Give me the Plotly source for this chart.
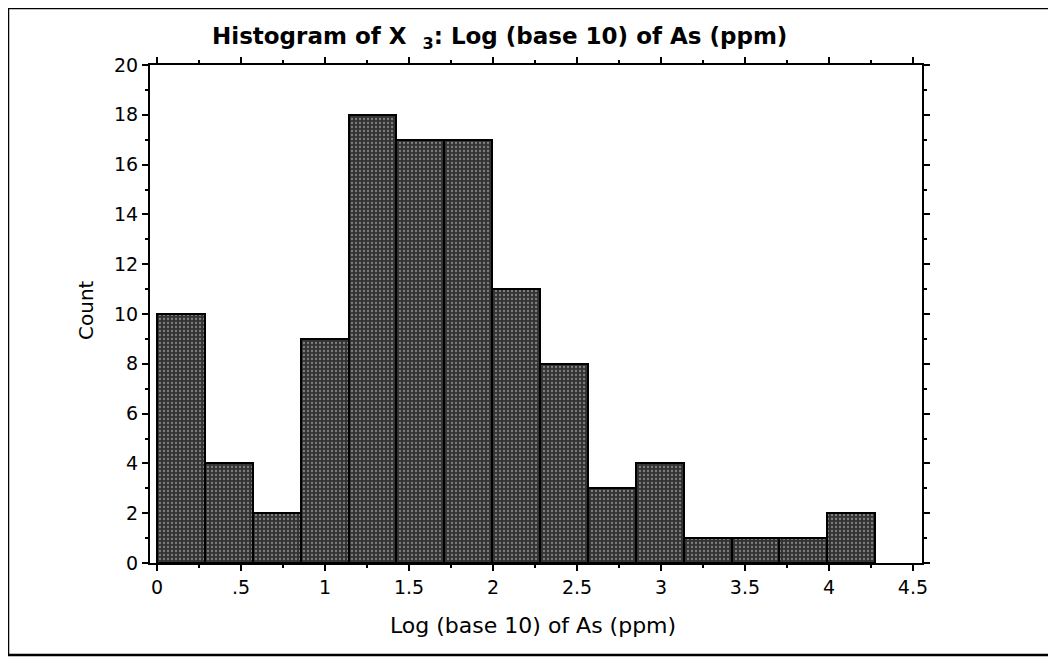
import plotly.graph_objects as go

# Histogram bins (log10 As ppm) and counts
bin_edges = [0.0, 0.285, 0.57, 0.855, 1.14, 1.425, 1.71, 1.995, 2.28,
             2.565, 2.85, 3.135, 3.42, 3.705, 3.99, 4.275]
counts = [10, 4, 2, 9, 18, 17, 17, 11, 8, 3, 4, 1, 1, 1, 2]

x_tickvals = [0, 0.5, 1, 1.5, 2, 2.5, 3, 3.5, 4, 4.5]
x_ticktext = ["0", ".5", "1", "1.5", "2", "2.5", "3", "3.5", "4", "4.5"]
y_tickvals = [0, 2, 4, 6, 8, 10, 12, 14, 16, 18, 20]

centers = [(a + b) / 2 for a, b in zip(bin_edges[:-1], bin_edges[1:])]
widths = [b - a for a, b in zip(bin_edges[:-1], bin_edges[1:])]

FONT = "DejaVu Sans"

fig = go.Figure()

fig.add_trace(go.Bar(
    x=centers,
    y=counts,
    width=widths,
    marker=dict(
        color="#333333",
        line=dict(color="black", width=2),
        pattern=dict(shape=".", fgcolor="#d0d0d0", bgcolor="#333333",
                     size=4, solidity=0.25),
    ),
    hoverinfo="x+y",
    showlegend=False,
))

# page body has an 8px margin, so the figure starts at (8, 8)
OFF = 8
W, H = 1056 - OFF, 658 - OFF
L, R, T, B = 150 - OFF, 134, 65 - OFF, 95
pw, ph = W - L - R, H - T - B


def px(x):
    return (x - OFF - L) / pw


def py(y):
    return (H - B - (y - OFF)) / ph


fig.update_layout(
    width=W,
    height=H,
    margin=dict(l=L, r=R, t=T, b=B),
    plot_bgcolor="white",
    paper_bgcolor="white",
    font=dict(family=FONT, size=19, color="black"),
    bargap=0,
    shapes=[
        # outer frame
        dict(type="rect", xref="paper", yref="paper",
             x0=px(8), x1=px(1080), y0=py(655), y1=py(8),
             line=dict(color="black", width=2.5), fillcolor="rgba(0,0,0,0)"),
    ],
    annotations=[
        dict(text="<b>Histogram of X&nbsp;&nbsp;<sub>3</sub>: Log (base 10) of As (ppm)</b>",
             xref="paper", yref="paper", x=px(210), y=py(38),
             xanchor="left", yanchor="middle",
             showarrow=False, font=dict(size=23, family=FONT)),
        dict(text="Count", textangle=-90,
             xref="paper", yref="paper", x=px(86), y=py(310),
             xanchor="center", yanchor="middle",
             showarrow=False, font=dict(size=20, family=FONT)),
        dict(text="Log (base 10) of As (ppm)",
             xref="paper", yref="paper", x=px(533), y=py(625),
             xanchor="center", yanchor="middle",
             showarrow=False, font=dict(size=22, family=FONT)),
    ],
)

fig.update_xaxes(
    range=[-0.042, 4.554],
    tickvals=x_tickvals,
    ticktext=x_ticktext,
    ticks="outside",
    ticklen=6,
    tickwidth=2,
    tickcolor="black",
    minor=dict(dtick=0.25, tick0=0, ticks="outside", ticklen=3,
               tickwidth=2, tickcolor="black"),
    showline=True,
    linecolor="black",
    linewidth=2,
    mirror="ticks",
    showgrid=False,
    zeroline=False,
    tickfont=dict(size=19),
)

fig.update_yaxes(
    range=[0, 20],
    tickvals=y_tickvals,
    ticks="outside",
    ticklen=6,
    tickwidth=2,
    tickcolor="black",
    minor=dict(dtick=1, tick0=0, ticks="outside", ticklen=3,
               tickwidth=2, tickcolor="black"),
    showline=True,
    linecolor="black",
    linewidth=2,
    mirror="ticks",
    showgrid=False,
    zeroline=False,
    tickfont=dict(size=19),
)

fig.write_html("out.html")
